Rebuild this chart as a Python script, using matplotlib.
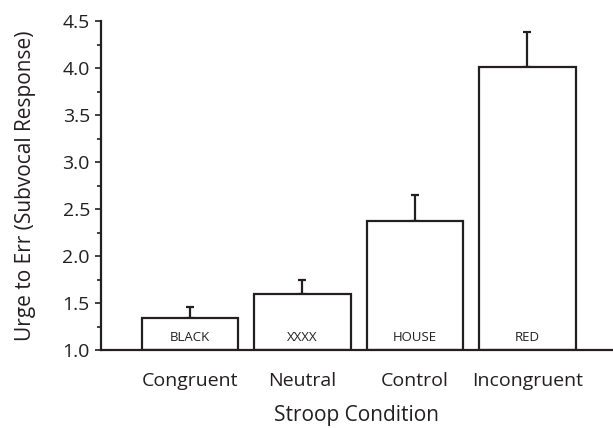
import numpy as np
import matplotlib.pyplot as plt
from matplotlib.ticker import MultipleLocator

plt.rcParams['font.family'] = ['Open Sans', 'DejaVu Sans']

# data
conditions = ['Congruent', 'Neutral', 'Control', 'Incongruent']
words = ['BLACK', 'XXXX', 'HOUSE', 'RED']
means = [1.34, 1.60, 2.37, 4.01]
errors = [0.12, 0.14, 0.28, 0.37]

fig = plt.figure(figsize=(6.13, 4.28), dpi=100)
ax = fig.add_axes([101 / 613, 1 - 350 / 428, 1 - 101 / 613, (350 - 21) / 428])

x = np.arange(len(conditions))
ax.bar(x, np.array(means) - 1.0, bottom=1.0, width=0.86, color='white',
       edgecolor='#231f20', linewidth=1.6, zorder=2)
ax.errorbar(x, means, yerr=[np.zeros(len(errors)), errors], fmt='none',
            ecolor='#231f20', elinewidth=1.6, capsize=3, capthick=1.6, zorder=1)

for xi, w in zip(x, words):
    ax.text(xi, 1.13, w, ha='center', va='center', fontsize=9.5, color='#231f20')

ax.set_xlim(-0.79, 3.76)
ax.set_ylim(1.0, 4.5)
ax.yaxis.set_minor_locator(MultipleLocator(0.25))
ax.set_yticks(np.arange(1.0, 4.51, 0.5))
ax.set_yticklabels([f'{v:.1f}' for v in np.arange(1.0, 4.51, 0.5)])
ax.set_xticks(x)
ax.set_xticklabels(conditions)

ax.spines['top'].set_visible(False)
ax.spines['right'].set_visible(False)
for s in ['left', 'bottom']:
    ax.spines[s].set_linewidth(1.6)
    ax.spines[s].set_color('#231f20')

ax.tick_params(axis='y', which='major', length=4, width=1.2, labelsize=14,
               colors='#231f20', pad=4)
ax.tick_params(axis='y', which='minor', length=3, width=1.2, colors='#231f20')
ax.tick_params(axis='x', length=0, labelsize=14, pad=16, colors='#231f20')

ax.set_ylabel('Urge to Err (Subvocal Response)', fontsize=15, color='#231f20', labelpad=19)
ax.set_xlabel('Stroop Condition', fontsize=15, color='#231f20', labelpad=11)

fig.savefig('out.png', dpi=100)
